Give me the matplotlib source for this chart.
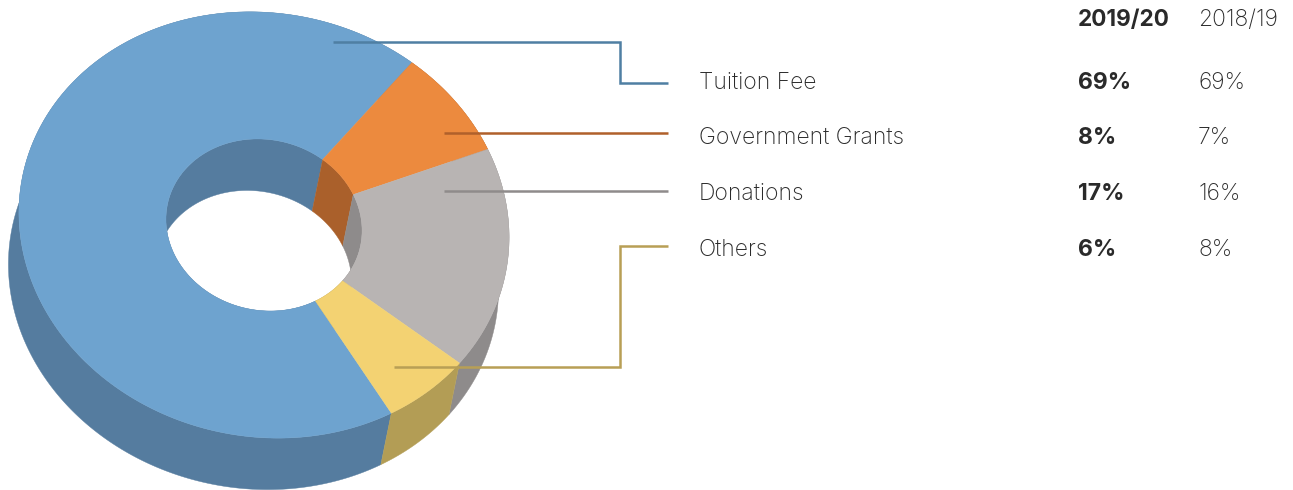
import numpy as np
import matplotlib
matplotlib.use("Agg")
import matplotlib.pyplot as plt
from matplotlib.patches import Polygon

categories = ["Tuition Fee", "Government Grants", "Donations", "Others"]
share_2019 = [69, 8, 17, 6]
share_2018 = [69, 7, 16, 8]
headers = ["2019/20", "2018/19"]
top_colors = ["#6EA3CF", "#EC8A3E", "#B8B4B3", "#F3D272"]
side_colors = ["#557C9F", "#AA602B", "#8E8B8B", "#B39D55"]
line_colors = ["#4F7FA3", "#B0602B", "#8F8B8B", "#B89F55"]
text_color = "#2A2A2A"

W, H = 1293, 490
CX, CY = 264.0, 225.0
OUT = (245.0, 213.0, -6.0, 7.0)
INN = (98.0, 86.0, -3.0, 3.0)
SHIFT = (-10.5, 51.5)
START = 51.5

plt.rcParams['font.family'] = ['Inter', 'Roboto', 'DejaVu Sans']
fig = plt.figure(figsize=(W / 100, H / 100), dpi=100)
ax = fig.add_axes([0, 0, 1, 1])
ax.set_xlim(0, W)
ax.set_ylim(H, 0)
ax.axis('off')


def arc(t1, t2, e, shift=(0, 0)):
    t = np.radians(np.linspace(t1, t2, max(int(abs(t2 - t1)) * 2, 2)))
    a, b, k, m = e
    x = CX + a * np.cos(t) + k * np.sin(t) + shift[0]
    y = CY - b * np.sin(t) + m * np.cos(t) + shift[1]
    return np.column_stack([x, y])


def poly(pts, color, z):
    ax.add_patch(Polygon(pts, closed=True, facecolor=color, edgecolor=color,
                         linewidth=0.3, zorder=z))


edges = START + share_2019[0] * 3.6 - np.cumsum([0] + share_2019) * 3.6
for i in range(len(categories)):
    t1, t2 = edges[i], edges[i + 1]
    poly(np.vstack([arc(t1, t2, OUT), arc(t2, t1, OUT, SHIFT)]), side_colors[i], 1)
    poly(np.vstack([arc(t1, t2, INN), arc(t2, t1, INN, SHIFT)]), side_colors[i], 2)
for i in range(len(categories)):
    t1, t2 = edges[i], edges[i + 1]
    poly(np.vstack([arc(t1, t2, OUT), arc(t2, t1, INN)]), top_colors[i], 3)

leaders = [
    ([333, 620, 620, 668], [42, 42, 83, 83]),
    ([444, 668], [133, 133]),
    ([444, 668], [191, 191]),
    ([394, 620, 620, 668], [367, 367, 246, 246]),
]
for (lx, ly), c in zip(leaders, line_colors):
    ax.plot(lx, ly, color=c, lw=1.8, solid_joinstyle='miter', solid_capstyle='butt', zorder=4)

FS = 16.5
ax.text(1078, 20, headers[0], fontsize=16.2, fontweight='bold', color=text_color, va='center', ha='left')
ax.text(1198, 20, headers[1], fontsize=FS, fontweight='light', color=text_color, va='center', ha='left')
rows = [83, 138, 194, 250]
for y, c, a, b in zip(rows, categories, share_2019, share_2018):
    ax.text(699, y, c, fontsize=FS, fontweight='light', color=text_color, va='center', ha='left')
    ax.text(1078, y, f"{a}%", fontsize=FS, fontweight='bold', color=text_color, va='center', ha='left')
    ax.text(1198, y, f"{b}%", fontsize=FS, fontweight='light', color=text_color, va='center', ha='left')

fig.savefig("out.png", dpi=100, facecolor='white')
